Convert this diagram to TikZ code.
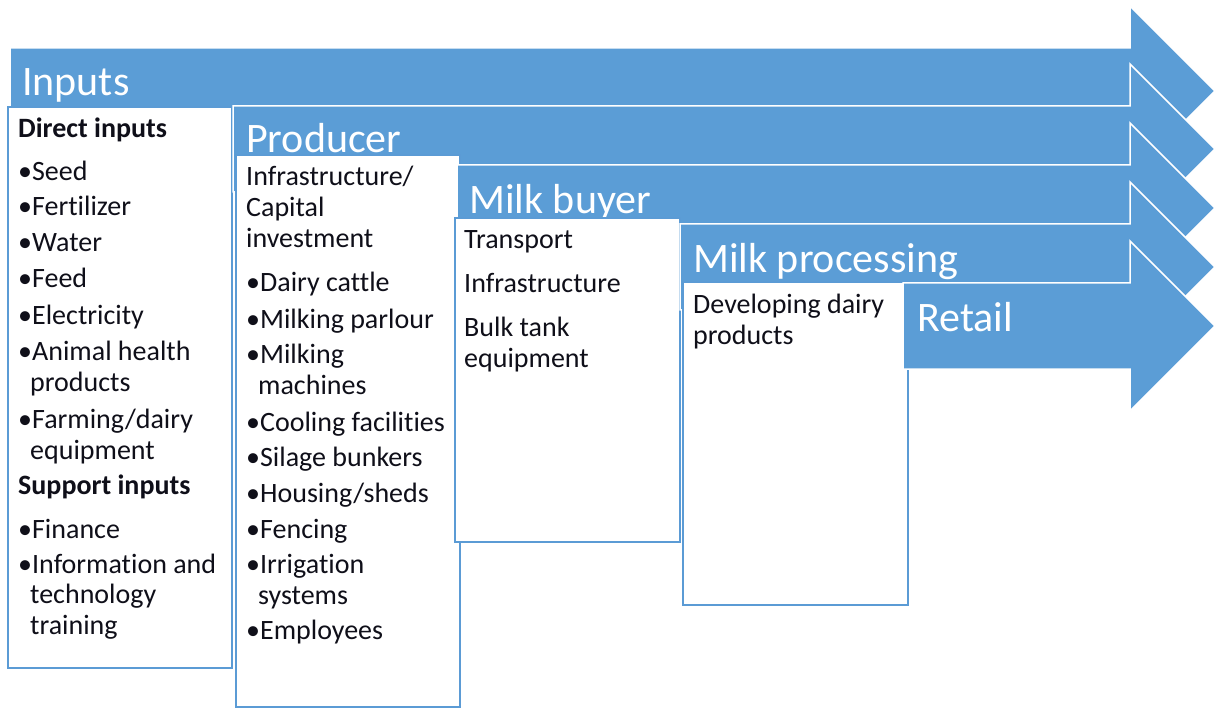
\documentclass[tikz,border=0pt]{standalone}
\usepackage{fontspec}
\setmainfont[Ligatures=NoCommon]{Carlito}
\definecolor{arrowblue}{RGB}{91,157,214}
\definecolor{boxblue}{RGB}{91,155,213}
\definecolor{inkc}{RGB}{15,15,25}
\newcommand\chainarrow[2]{%
  \draw[arr] (#1,#2-43) -- (1130,#2-43) -- (1130,#2-85) -- (1215,#2) -- (1130,#2+85) -- (1130,#2+43) -- (#1,#2+43) -- cycle;}
\begin{document}
\begin{tikzpicture}[x=1pt,y=-1pt,
  arr/.style={fill=arrowblue, draw=white, line width=1.5pt, line join=miter},
  panel/.style={fill=white, draw=boxblue, line width=2pt},
  ttl/.style={anchor=base west, inner sep=0pt, text=white, font=\fontsize{42}{50}\selectfont},
  txt/.style={anchor=base west, inner sep=0pt, text=inkc, font=\fontsize{28}{33}\selectfont},
  hd/.style={anchor=base west, inner sep=0pt, text=inkc, font=\fontsize{28}{33}\selectfont\bfseries}]
\useasboundingbox (0,0) rectangle (1217,708);

% Inputs
\chainarrow{10}{91}
\node[ttl] (tInputs) at (22,96) {Inputs};
\draw[panel] (8,107) rectangle (232,668);
\node[hd]  (i1) at (18,138) {Direct inputs};
\node[txt] (i2) at (18,181) {•Seed};
\node[txt] (i3) at (18,216) {•Fertilizer};
\node[txt] (i4) at (18,252) {•Water};
\node[txt] (i5) at (18,288) {•Feed};
\node[txt] (i6) at (18,324) {•Electricity};
\node[txt] (i7) at (18,360) {•Animal health};
\node[txt] (i7b) at (30,391) {products};
\node[txt] (i8) at (18,428) {•Farming/dairy};
\node[txt] (i8b) at (30,459) {equipment};
\node[hd]  (i9) at (18,494) {Support inputs};
\node[txt] (i10) at (18,538) {•Finance};
\node[txt] (i11) at (18,573) {•Information and};
\node[txt] (i11b) at (30,603) {technology};
\node[txt] (i11c) at (30,634) {training};

% Producer
\chainarrow{233}{149}
\node[ttl] (tProducer) at (246,153) {Producer};
\draw[panel] (236,155) rectangle (460,707);
\node[txt] (p1) at (246,186) {Infrastructure/};
\node[txt] (p1b) at (246,217) {Capital};
\node[txt] (p1c) at (246,248) {investment};
\node[txt] (p2) at (246,292) {•Dairy cattle};
\node[txt] (p3) at (246,328) {•Milking parlour};
\node[txt] (p4) at (246,363) {•Milking};
\node[txt] (p4b) at (258,394) {machines};
\node[txt] (p5) at (246,431) {•Cooling facilities};
\node[txt] (p6) at (246,466) {•Silage bunkers};
\node[txt] (p7) at (246,502) {•Housing/sheds};
\node[txt] (p8) at (246,538) {•Fencing};
\node[txt] (p9) at (246,573) {•Irrigation};
\node[txt] (p9b) at (258,604) {systems};
\node[txt] (p10) at (246,639) {•Employees};

% Milk buyer
\chainarrow{457}{208}
\node[ttl] (tBuyer) at (469,214) {Milk buyer};
\draw[panel] (455,218) rectangle (680,542);
\node[txt] (b1) at (464,249) {Transport};
\node[txt] (b2) at (464,293) {Infrastructure};
\node[txt] (b3) at (464,336) {Bulk tank};
\node[txt] (b3b) at (464,367) {equipment};

% Milk processing
\chainarrow{680}{267}
\node[ttl] (tProc) at (693,273) {Milk processing};
\draw[panel] (683,282) rectangle (908,605);
\node[txt] (m1) at (693,313) {Developing dairy};
\node[txt] (m1b) at (693,344) {products};

% Retail
\chainarrow{903}{326}
\node[ttl] (tRetail) at (917,331) {Retail};
\end{tikzpicture}
\end{document}
